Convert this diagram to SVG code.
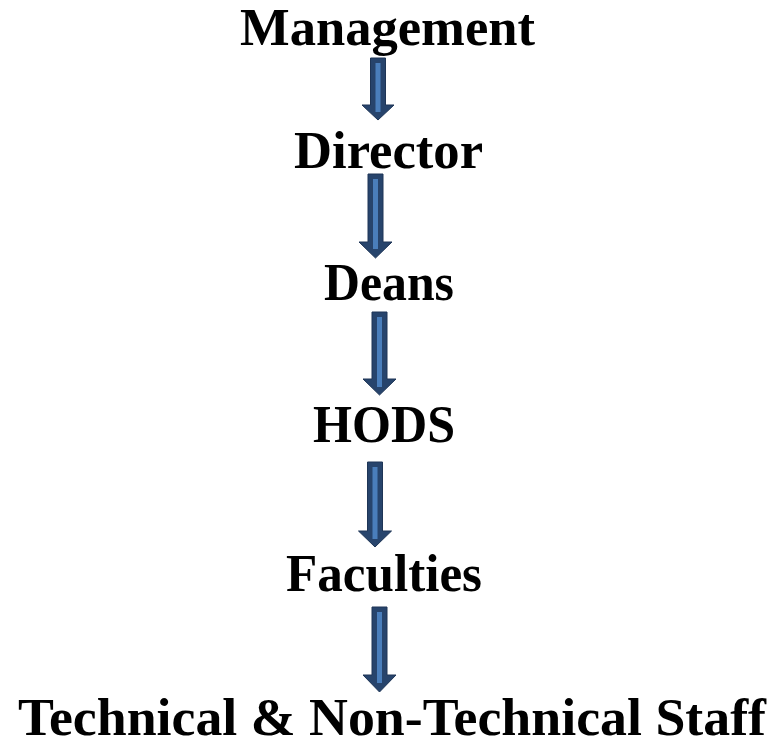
<svg xmlns="http://www.w3.org/2000/svg" width="770" height="744" viewBox="0 0 770 744">
<style>
.t{font-family:"Liberation Serif","Times New Roman",serif;font-weight:bold;font-size:53px;fill:#000;text-anchor:middle}
.a{fill:#27446C;stroke:#1E3556;stroke-width:1}
.s{fill:#4A7EBB}
</style>
<rect width="770" height="744" fill="#fff"/>
<g id="connectors">
<polygon class="a" points="370.5,58 385.5,58 385.5,105 394,105 378,120 362,105 370.5,105"/>
<rect class="s" x="375.5" y="63" width="5" height="49"/>
<polygon class="a" points="368,174 383,174 383,242 392,242 375.5,258 359,242 368,242"/>
<rect class="s" x="373" y="179" width="5" height="70"/>
<polygon class="a" points="372,312 387,312 387,379 396,379 379.5,395 363,379 372,379"/>
<rect class="s" x="377" y="317" width="5" height="70"/>
<polygon class="a" points="367.5,462 382.5,462 382.5,531 391.5,531 375,547 358.5,531 367.5,531"/>
<rect class="s" x="372.5" y="467" width="5" height="72"/>
<polygon class="a" points="372,607 387,607 387,675 396,675 379.5,692 363,675 372,675"/>
<rect class="s" x="377" y="612" width="5" height="71"/>
</g>
<g id="management"><text class="t" x="387.5" y="45" textLength="295" lengthAdjust="spacingAndGlyphs">Management</text></g>
<g id="director"><text class="t" x="388.5" y="168" textLength="189" lengthAdjust="spacingAndGlyphs">Director</text></g>
<g id="deans"><text class="t" x="389" y="300" textLength="130" lengthAdjust="spacingAndGlyphs">Deans</text></g>
<g id="hods"><text class="t" x="384" y="442" textLength="142" lengthAdjust="spacingAndGlyphs">HODS</text></g>
<g id="faculties"><text class="t" x="384" y="591" textLength="196" lengthAdjust="spacingAndGlyphs">Faculties</text></g>
<g id="staff"><text class="t" x="392" y="735" textLength="748" lengthAdjust="spacingAndGlyphs">Technical &amp; Non-Technical Staff</text></g>
</svg>
